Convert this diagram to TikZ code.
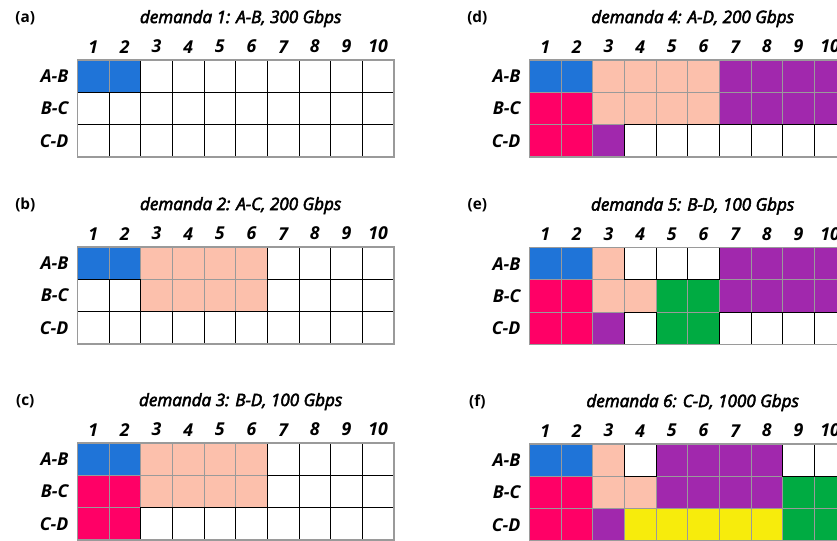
\documentclass[tikz,border=0pt]{standalone}
\usepackage{fontspec}
\setmainfont{Open Sans}
\newfontfamily\semifont{Open Sans}[FakeBold=3, ItalicFeatures={FakeBold=3}]
\usetikzlibrary{positioning}
\definecolor{slotBlue}{HTML}{1F74D8}
\definecolor{slotPink}{HTML}{FF0066}
\definecolor{slotSalmon}{HTML}{FCC0AC}
\definecolor{slotPurple}{HTML}{A128AD}
\definecolor{slotGreen}{HTML}{00AB42}
\definecolor{slotYellow}{HTML}{F7EC0C}
\definecolor{gridGrey}{HTML}{9A9A9A}

\tikzset{
  slot/.style={minimum width=23.75pt, minimum height=24.2pt, inner sep=0pt, outer sep=0pt},
  slotW/.style={slot},
  slotB/.style={slot, fill=slotBlue, draw=gridGrey, line width=0.7pt},
  slotP/.style={slot, fill=slotPink, draw=gridGrey, line width=0.7pt},
  slotS/.style={slot, fill=slotSalmon, draw=gridGrey, line width=0.7pt},
  slotU/.style={slot, fill=slotPurple, draw=gridGrey, line width=0.7pt},
  slotG/.style={slot, fill=slotGreen, draw=gridGrey, line width=0.7pt},
  slotY/.style={slot, fill=slotYellow, draw=gridGrey, line width=0.7pt},
  freeW/.style={draw=black, line width=0.7pt},
  freeB/.style={}, freeP/.style={}, freeS/.style={},
  freeU/.style={}, freeG/.style={}, freeY/.style={},
  demand/.style={font=\semifont\itshape\fontsize{12.8}{15}\selectfont, inner sep=0pt},
  slotnum/.style={font=\bfseries\itshape\fontsize{13.3}{15}\selectfont, inner sep=0pt},
  linklab/.style={font=\bfseries\itshape\fontsize{13.3}{15}\selectfont, inner sep=0pt},
  tag/.style={font=\bfseries\fontsize{11.5}{13}\selectfont, inner sep=0pt}
}

% one spectrum grid: name, origin, tag, title, occupancy per link
\newcommand{\slotpanel}[5]{%
  \begin{scope}[shift={#2}]
    \foreach \row [count=\r] in {#5} {
      \foreach \s [count=\k] in \row
        \node[slot\s] (#1-\r-\k) at ({(\k-0.5)*31.67},{(\r-0.5)*32.3}) {};
    }
    % borders of the free slots on top
    \foreach \row [count=\r] in {#5} {
      \foreach \s [count=\k] in \row
        \path[free\s] (#1-\r-\k.south west) rectangle (#1-\r-\k.north east);
    }
    \draw[gridGrey, line width=1.2pt] (#1-1-1.north west) rectangle (#1-3-10.south east);
    \foreach \lnk [count=\r] in {A-B,B-C,C-D}
      \node[linklab, left=6.5pt of #1-\r-1] (#1-lab-\r) {\lnk};
    \foreach \k in {1,...,10}
      \node[slotnum, above=5pt of #1-1-\k] (#1-num-\k) {\k};
    \node[demand, above=27.75pt of #1-1-5.north east, anchor=base, xshift=3.75pt] (#1-title) {#4};
    \node[tag, anchor=base] (#1-tag) at (-52,-38) {#3};
  \end{scope}
}

\begin{document}
\begin{tikzpicture}[x=0.75pt, y=-0.75pt]
\useasboundingbox (0,0) rectangle (837,540);

\slotpanel{pa}{(77.3,60)}{(a)}{demanda 1: A-B, 300 Gbps}{%
  {B,B,W,W,W,W,W,W,W,W},
  {W,W,W,W,W,W,W,W,W,W},
  {W,W,W,W,W,W,W,W,W,W}}

\slotpanel{pb}{(77.3,247)}{(b)}{demanda 2: A-C, 200 Gbps}{%
  {B,B,S,S,S,S,W,W,W,W},
  {W,W,S,S,S,S,W,W,W,W},
  {W,W,W,W,W,W,W,W,W,W}}

\slotpanel{pc}{(77.3,443)}{(c)}{demanda 3: B-D, 100 Gbps}{%
  {B,B,S,S,S,S,W,W,W,W},
  {P,P,S,S,S,S,W,W,W,W},
  {P,P,W,W,W,W,W,W,W,W}}

\slotpanel{pd}{(529.3,60)}{(d)}{demanda 4: A-D, 200 Gbps}{%
  {B,B,S,S,S,S,U,U,U,U},
  {P,P,S,S,S,S,U,U,U,U},
  {P,P,U,W,W,W,W,W,W,W}}

\slotpanel{pe}{(529.3,247.5)}{(e)}{demanda 5: B-D, 100 Gbps}{%
  {B,B,S,W,W,W,U,U,U,U},
  {P,P,S,S,G,G,U,U,U,U},
  {P,P,U,W,G,G,W,W,W,W}}

\slotpanel{pf}{(529.3,444)}{(f)}{demanda 6: C-D, 1000 Gbps}{%
  {B,B,S,W,U,U,U,U,W,W},
  {P,P,S,S,U,U,U,U,G,G},
  {P,P,U,Y,Y,Y,Y,Y,G,G}}

\end{tikzpicture}
\end{document}
